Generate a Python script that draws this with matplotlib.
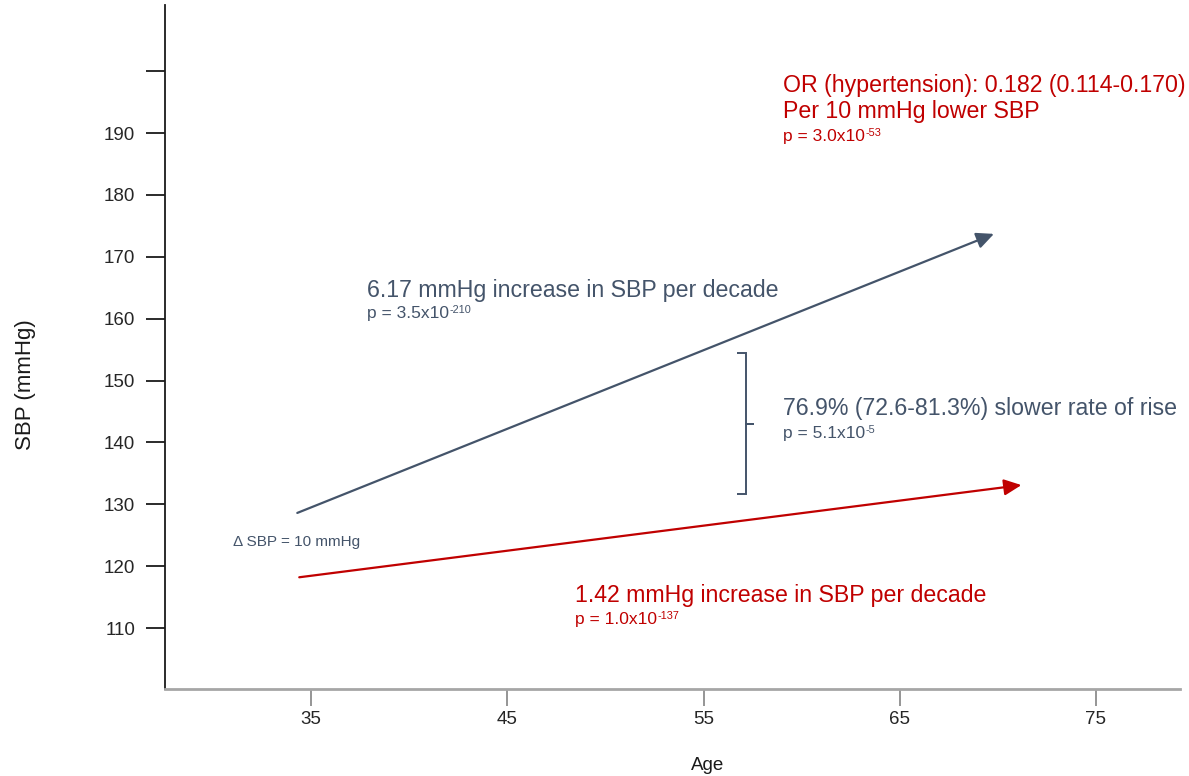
import matplotlib
matplotlib.use('Agg')
import matplotlib.pyplot as plt

plt.rcParams['font.family'] = ['Liberation Sans', 'DejaVu Sans']

BLUE = '#44546A'
RED = '#C00000'

# trend arrows: (start age, end age), (start SBP, end SBP)
overall_age = [34.3, 69.8]
overall_sbp = [128.6, 173.7]
lower_age = [34.4, 71.2]
lower_sbp = [118.2, 133.1]

# bracket showing the gap between the two slopes
bracket_age = [56.7, 57.17, 57.17, 57.55, 57.17, 57.17, 56.7]
bracket_sbp = [154.4, 154.4, 143.0, 143.0, 143.0, 131.7, 131.7]

yticks = [110, 120, 130, 140, 150, 160, 170, 180, 190, 200]
ytick_labels = ['110', '120', '130', '140', '150', '160', '170', '180', '190', '']
xticks = [35, 45, 55, 65, 75]

fig = plt.figure(figsize=(11.89, 7.76), dpi=100)
ax = fig.add_axes([0.1388, 0.1121, 0.8536, 0.8815])
ax.set_xlim(27.56, 79.28)
ax.set_ylim(100.14, 210.7)

for s in ['top', 'right']:
    ax.spines[s].set_visible(False)
ax.spines['left'].set_color('#1a1a1a')
ax.spines['left'].set_linewidth(1.3)
ax.spines['bottom'].set_color('#a6a6a6')
ax.spines['bottom'].set_linewidth(2)

ax.set_yticks(yticks)
ax.set_yticklabels(ytick_labels)
ax.set_xticks(xticks)
ax.tick_params(axis='y', length=13.5, width=1.3, color='#1a1a1a', pad=8,
               labelsize=13.5, labelcolor='#262626')
ax.tick_params(axis='x', length=12, width=1.3, color='#8c8c8c', pad=4,
               labelsize=13.5, labelcolor='#262626')

arrow_kw = dict(arrowstyle='-|>,head_length=0.75,head_width=0.35',
                shrinkA=0, shrinkB=0, lw=1.6, mutation_scale=14)
ax.annotate('', xy=(overall_age[1], overall_sbp[1]),
            xytext=(overall_age[0], overall_sbp[0]),
            arrowprops=dict(color=BLUE, **arrow_kw))
ax.annotate('', xy=(lower_age[1], lower_sbp[1]),
            xytext=(lower_age[0], lower_sbp[0]),
            arrowprops=dict(color=RED, **arrow_kw))

ax.plot(bracket_age, bracket_sbp, color=BLUE, lw=1.4,
        solid_joinstyle='miter', solid_capstyle='butt')

big = 16.7
small = 12.5


def pvalue(x, y, base, exponent, color):
    # base text plus a small raised exponent right after it
    t = ax.text(x, y, base, color=color, fontsize=small, va='baseline')
    ax.annotate(exponent, xy=(1, y), xycoords=(t, 'data'),
                xytext=(0.5, 5), textcoords='offset pixels',
                fontsize=7.8, color=color, va='baseline')


# red annotations (odds ratio)
ax.text(59.05, 196.6, 'OR (hypertension): 0.182 (0.114-0.170)', color=RED,
        fontsize=big, va='baseline')
ax.text(59.05, 192.4, 'Per 10 mmHg lower SBP', color=RED,
        fontsize=big, va='baseline')
pvalue(59.05, 188.7, 'p = 3.0x10', '-53', RED)

# slope of the overall population
ax.text(37.85, 163.5, '6.17 mmHg increase in SBP per decade', color=BLUE,
        fontsize=big, va='baseline')
pvalue(37.85, 160.1, 'p = 3.5x10', '-210', BLUE)

# difference in slopes
ax.text(59.05, 144.4, '76.9% (72.6-81.3%) slower rate of rise', color=BLUE,
        fontsize=big, va='baseline')
pvalue(59.05, 140.7, 'p = 5.1x10', '-5', BLUE)

ax.text(31.03, 123.25, '\u0394 SBP = 10 mmHg', color=BLUE,
        fontsize=11, va='baseline')

# slope with lower SBP
ax.text(48.45, 114.2, '1.42 mmHg increase in SBP per decade', color=RED,
        fontsize=big, va='baseline')
pvalue(48.45, 110.65, 'p = 1.0x10', '-137', RED)

fig.text(25 / 1189, 1 - 385 / 776, 'SBP (mmHg)', rotation=90,
         fontsize=16, color='#1a1a1a', ha='center', va='center')
fig.text(708 / 1189, 1 - 765 / 776, 'Age', fontsize=13.5,
         color='#1a1a1a', ha='center', va='center')

fig.savefig('out.png', dpi=100)
